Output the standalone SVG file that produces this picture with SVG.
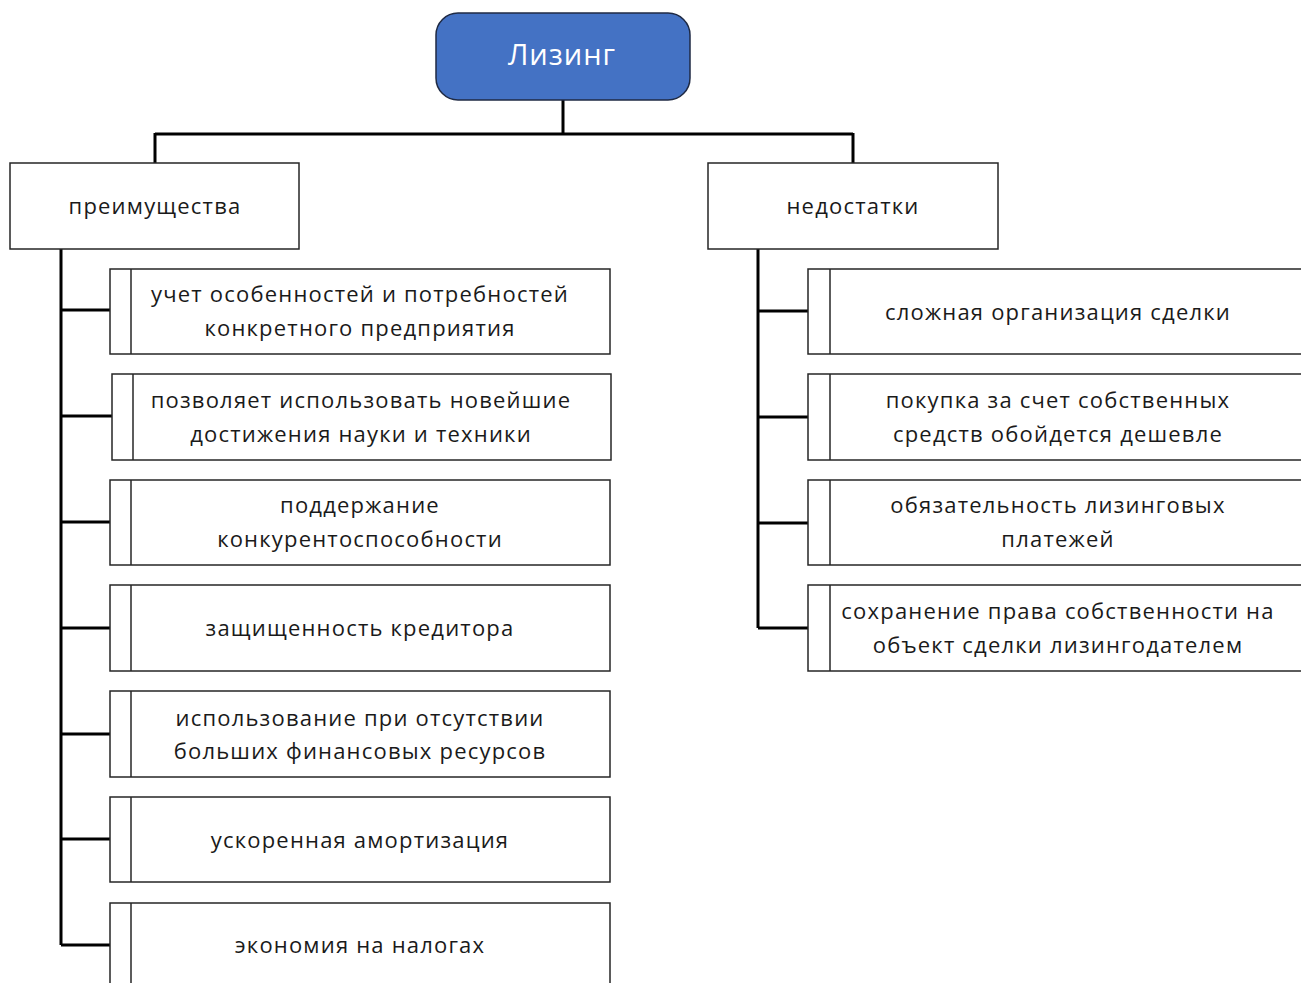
<svg xmlns="http://www.w3.org/2000/svg" width="1301" height="983" viewBox="0 0 1301 983">
<style>
.box{fill:#fff;stroke:#262626;stroke-width:1.5}
.inner{stroke:#262626;stroke-width:1.5}
.t{font-family:"Open Sans","Noto Sans",sans-serif;font-size:22px;letter-spacing:1.2px;fill:#1a1a1a;text-anchor:middle}
.c{fill:none;stroke:#000;stroke-width:3}
</style>
<rect width="1301" height="983" fill="#fff"/>
<g id="connectors">
<path class="c" d="M563 100V134M155 134H853M155 133V163M853 133V163"/>
<path class="c" d="M61 249V945M61 310H110M61 416H112M61 522H110M61 628H110M61 734H110M61 839H110M61 945H110"/>
<path class="c" d="M758 249V628M758 311H808M758 417H808M758 523H808M758 628H808"/>
</g>
<g id="root">
<rect x="436" y="13" width="254" height="87" rx="22" fill="#4472C4" stroke="#1f2a44" stroke-width="1.5"/>
<text x="562" y="65" font-family="'Open Sans','Noto Sans',sans-serif" font-size="29" letter-spacing="1" fill="#fff" text-anchor="middle">Лизинг</text>
</g>
<g id="adv">
<rect class="box" x="10" y="163" width="289" height="86"/>
<text class="t" x="155" y="214">преимущества</text>
</g>
<g id="dis">
<rect class="box" x="708" y="163" width="290" height="86"/>
<text class="t" x="853" y="214">недостатки</text>
</g>
<g id="a1"><rect class="box" x="110" y="269" width="500" height="85"/><path class="inner" d="M131 269V354"/><text class="t" x="360" y="302">учет особенностей и потребностей</text><text class="t" x="360" y="336">конкретного предприятия</text></g>
<g id="a2"><rect class="box" x="112" y="374" width="499" height="86"/><path class="inner" d="M133 374V460"/><text class="t" x="361" y="408">позволяет использовать новейшие</text><text class="t" x="361" y="442">достижения науки и техники</text></g>
<g id="a3"><rect class="box" x="110" y="480" width="500" height="85"/><path class="inner" d="M131 480V565"/><text class="t" x="360" y="513">поддержание</text><text class="t" x="360" y="547">конкурентоспособности</text></g>
<g id="a4"><rect class="box" x="110" y="585" width="500" height="86"/><path class="inner" d="M131 585V671"/><text class="t" x="360" y="636">защищенность кредитора</text></g>
<g id="a5"><rect class="box" x="110" y="691" width="500" height="86"/><path class="inner" d="M131 691V777"/><text class="t" x="360" y="726">использование при отсутствии</text><text class="t" x="360" y="759">больших финансовых ресурсов</text></g>
<g id="a6"><rect class="box" x="110" y="797" width="500" height="85"/><path class="inner" d="M131 797V882"/><text class="t" x="360" y="848">ускоренная амортизация</text></g>
<g id="a7"><rect class="box" x="110" y="903" width="500" height="100"/><path class="inner" d="M131 903V983"/><text class="t" x="360" y="953">экономия на налогах</text></g>
<g id="d1"><rect class="box" x="808" y="269" width="510" height="85"/><path class="inner" d="M830 269V354"/><text class="t" x="1058" y="320">сложная организация сделки</text></g>
<g id="d2"><rect class="box" x="808" y="374" width="510" height="86"/><path class="inner" d="M830 374V460"/><text class="t" x="1058" y="408">покупка за счет собственных</text><text class="t" x="1058" y="442">средств обойдется дешевле</text></g>
<g id="d3"><rect class="box" x="808" y="480" width="510" height="85"/><path class="inner" d="M830 480V565"/><text class="t" x="1058" y="513">обязательность лизинговых</text><text class="t" x="1058" y="547">платежей</text></g>
<g id="d4"><rect class="box" x="808" y="585" width="510" height="86"/><path class="inner" d="M830 585V671"/><text class="t" x="1058" y="619">сохранение права собственности на</text><text class="t" x="1058" y="653">объект сделки лизингодателем</text></g>
</svg>
